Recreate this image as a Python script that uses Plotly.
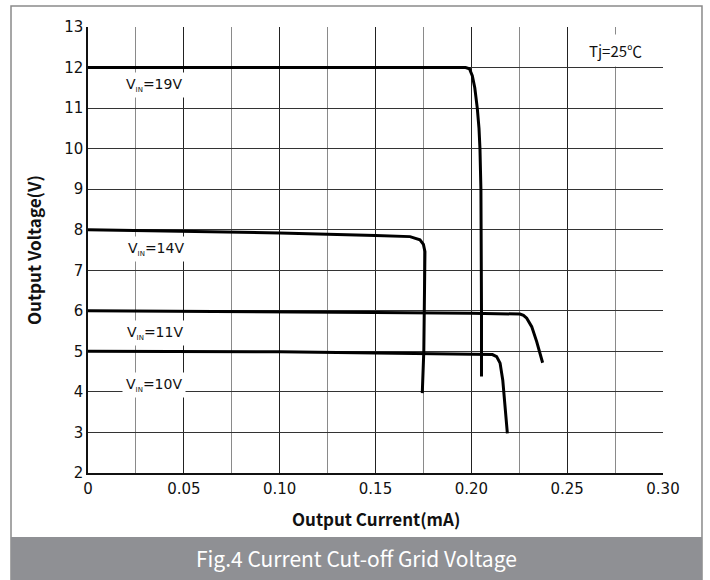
import plotly.graph_objects as go

# ---- data ----
x_tickvals = [0, 0.05, 0.10, 0.15, 0.20, 0.25, 0.30]
x_ticktext = ["0", "0.05", "0.10", "0.15", "0.20", "0.25", "0.30"]
y_tickvals = [2, 3, 4, 5, 6, 7, 8, 9, 10, 11, 12, 13]

i_19v = [0, 0.10, 0.197, 0.199, 0.2005, 0.2018, 0.2031, 0.2040, 0.2045, 0.2050, 0.2052, 0.2053, 0.2053]
v_19v = [12.0, 12.0, 12.0, 11.97, 11.8, 11.5, 11.0, 10.5, 10.0, 9.0, 8.0, 6.0, 4.38]

i_14v = [0, 0.05, 0.10, 0.15, 0.168, 0.1732, 0.175, 0.1758, 0.1757, 0.1752, 0.1744]
v_14v = [8.0, 7.96, 7.92, 7.86, 7.83, 7.75, 7.64, 7.46, 6.5, 5.0, 3.97]

i_11v = [0, 0.05, 0.10, 0.15, 0.20, 0.222, 0.2254, 0.2272, 0.2289, 0.2315, 0.2341, 0.2372]
v_11v = [6.0, 5.99, 5.98, 5.96, 5.94, 5.93, 5.92, 5.89, 5.82, 5.61, 5.24, 4.72]

i_10v = [0, 0.05, 0.10, 0.15, 0.20, 0.211, 0.2132, 0.2150, 0.2164, 0.2176, 0.2188]
v_10v = [5.0, 5.0, 4.99, 4.96, 4.93, 4.92, 4.87, 4.71, 4.29, 3.64, 2.98]

labels = ["V<sub><span style='font-size:7px'>IN</span></sub>=19V",
          "V<sub><span style='font-size:7px'>IN</span></sub>=14V",
          "V<sub><span style='font-size:7px'>IN</span></sub>=11V",
          "V<sub><span style='font-size:7px'>IN</span></sub>=10V"]
label_x = [0.0345, 0.0355, 0.035, 0.0345]
label_y = [11.57, 7.53, 5.45, 4.17]

temp_label = "Tj=25℃"
x_title = "Output Current(mA)"
y_title = "Output Voltage(V)"
caption = "Fig.4 Current Cut-off Grid Voltage"

# ---- figure ----
fig = go.Figure()
for xs, ys in [(i_19v, v_19v), (i_14v, v_14v), (i_11v, v_11v), (i_10v, v_10v)]:
    fig.add_trace(go.Scatter(x=xs, y=ys, mode="lines",
                             line=dict(color="black", width=3),
                             showlegend=False, hoverinfo="skip"))

tick_font = dict(family="DejaVu Sans", size=15, color="#111")
label_font = dict(family="DejaVu Sans", size=14, color="#111")
cjk = "Noto Sans CJK SC"

annotations = []
for t, lx, ly in zip(labels, label_x, label_y):
    annotations.append(dict(x=lx, y=ly, xref="x", yref="y", text=t, showarrow=False,
                            font=label_font, bgcolor="white", borderpad=3,
                            xanchor="center", yanchor="middle"))
annotations.append(dict(x=0.2752, y=12.43, xref="x", yref="y", text=temp_label,
                        showarrow=False, font=dict(family=cjk, size=15, color="#111"),
                        bgcolor="white", borderpad=5, xanchor="center", yanchor="middle"))
annotations.append(dict(x=0.5, y=-0.1009, xref="paper", yref="paper", text="<b>" + x_title + "</b>",
                        showarrow=False, font=dict(family=cjk, size=17, color="#111"),
                        xanchor="center", yanchor="middle"))
annotations.append(dict(x=-0.0957, y=0.5, xref="paper", yref="paper", text="<b>" + y_title + "</b>",
                        showarrow=False, textangle=-90, font=dict(family=cjk, size=17, color="#111"),
                        xanchor="center", yanchor="middle"))
annotations.append(dict(x=0.4661, y=-0.1906, xref="paper", yref="paper", text=caption,
                        showarrow=False, font=dict(family=cjk, size=21, color="white"),
                        xanchor="center", yanchor="middle"))

shapes = [
    dict(type="rect", xref="paper", yref="paper", x0=-0.1339, x1=1.0678, y0=-0.2399, y1=1.0471,
         line=dict(color="#8a8a8a", width=1.5), fillcolor="rgba(0,0,0,0)", layer="below"),
    dict(type="rect", xref="paper", yref="paper", x0=-0.1339, x1=1.0678, y0=-0.2399, y1=-0.1435,
         line=dict(width=0), fillcolor="#8f9094", layer="above"),
]

fig.update_layout(
    width=710, height=580,
    margin=dict(l=88, r=47, t=27, b=107),
    paper_bgcolor="white", plot_bgcolor="white",
    annotations=annotations, shapes=shapes,
    xaxis=dict(range=[0, 0.30], tickmode="array", tickvals=x_tickvals, ticktext=x_ticktext,
               showgrid=True, gridcolor="#222", gridwidth=1, zeroline=False,
               showline=True, linecolor="#111", linewidth=1.5, mirror=False, ticks="",
               tickfont=tick_font, ticklabelstandoff=1,
               minor=dict(tickmode="linear", tick0=0, dtick=0.025, showgrid=True,
                          gridcolor="#8a8a8a", gridwidth=1, ticks="")),
    yaxis=dict(range=[2, 13], tickmode="array", tickvals=y_tickvals,
               showgrid=True, gridcolor="#333", gridwidth=1, zeroline=False,
               showline=True, linecolor="#111", linewidth=1.5, ticks="",
               tickfont=tick_font),
)

fig.write_html("out.html")
